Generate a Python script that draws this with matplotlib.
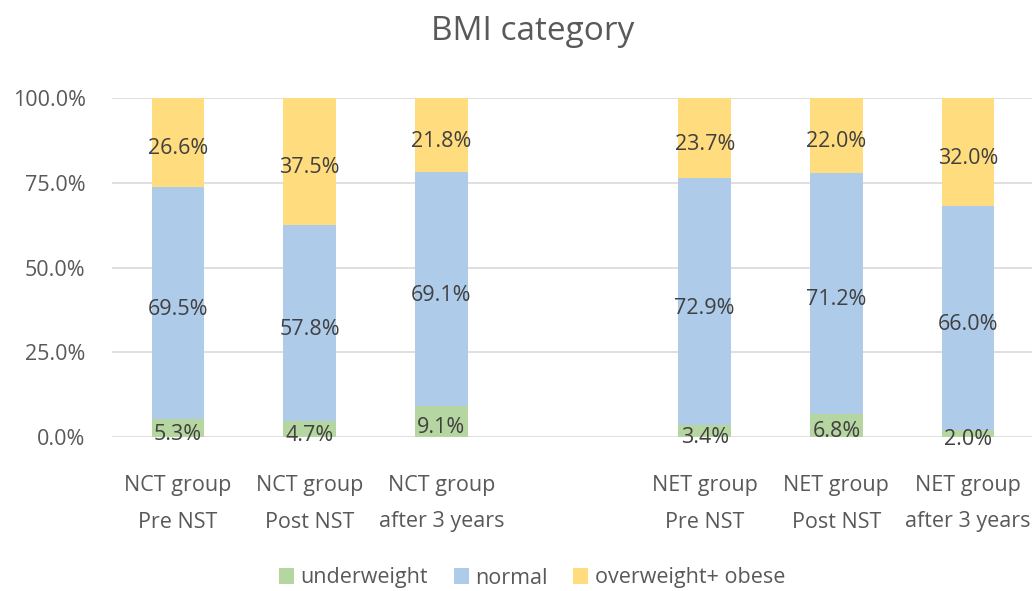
import matplotlib
matplotlib.use("Agg")
import matplotlib.pyplot as plt
import numpy as np

plt.rcParams['font.family'] = ['Open Sans', 'DejaVu Sans']

categories = ["NCT group\nPre NST", "NCT group\nPost NST", "NCT group\nafter 3 years", "",
              "NET group\nPre NST", "NET group\nPost NST", "NET group\nafter 3 years"]
underweight = [5.3, 4.7, 9.1, None, 3.4, 6.8, 2.0]
normal = [69.5, 57.8, 69.1, None, 72.9, 71.2, 66.0]
overweight = [26.6, 37.5, 21.8, None, 23.7, 22.0, 32.0]
series_names = ["underweight", "normal", "overweight+ obese"]
colors = ["#B5D6A0", "#AECCEA", "#FFDC7E"]

fig = plt.figure(figsize=(10.32, 5.91), dpi=100)
ax = fig.add_axes([112/1032, 1-437/591, (1034-112)/1032, (437-98)/591])

x = np.arange(len(categories))
series = [underweight, normal, overweight]
valid = [i for i in range(len(categories)) if underweight[i] is not None]
totals = {i: sum(s[i] for s in series) for i in valid}
bottoms = {i: 0.0 for i in valid}
for s, name, c in zip(series, series_names, colors):
    xs = [x[i] for i in valid]
    hs = [s[i] / totals[i] * 100 for i in valid]
    bs = [bottoms[i] for i in valid]
    ax.bar(xs, hs, bottom=bs, width=0.4, color=c, label=name, zorder=2)
    for xi, h, b, i in zip(xs, hs, bs, valid):
        ax.annotate(f"{s[i]:.1f}%", (xi, b + h / 2), xytext=(0, -4.5),
                    textcoords='offset points', ha='center', va='center',
                    fontsize=15.5, color='#404040', zorder=3)
        bottoms[i] += h

ax.set_xlim(-0.5, len(categories) - 0.5)
ax.set_ylim(0, 100)
ax.set_yticks([0, 25, 50, 75, 100])
ax.set_yticklabels(["0.0%", "25.0%", "50.0%", "75.0%", "100.0%"])
ax.set_xticks(x)
ax.set_xticklabels(categories, linespacing=2.0)
ax.tick_params(axis='both', length=0, labelsize=15.5, colors='#595959')
ax.tick_params(axis='x', pad=27)
ax.tick_params(axis='y', pad=19)
ax.grid(axis='y', color='#D9D9D9', linewidth=1.2, zorder=0)
for sp in ax.spines.values():
    sp.set_visible(False)

fig.suptitle("BMI category", x=533/1032, y=1-32/591, va='center', fontsize=24, color='#595959')
fig.legend(loc='center', bbox_to_anchor=(532/1032, 1-578/591), ncol=3, frameon=False,
           fontsize=15.5, labelcolor='#595959', handlelength=0.7, handleheight=0.7,
           handletextpad=0.3, columnspacing=1.2)

fig.savefig("out.png", dpi=100)
